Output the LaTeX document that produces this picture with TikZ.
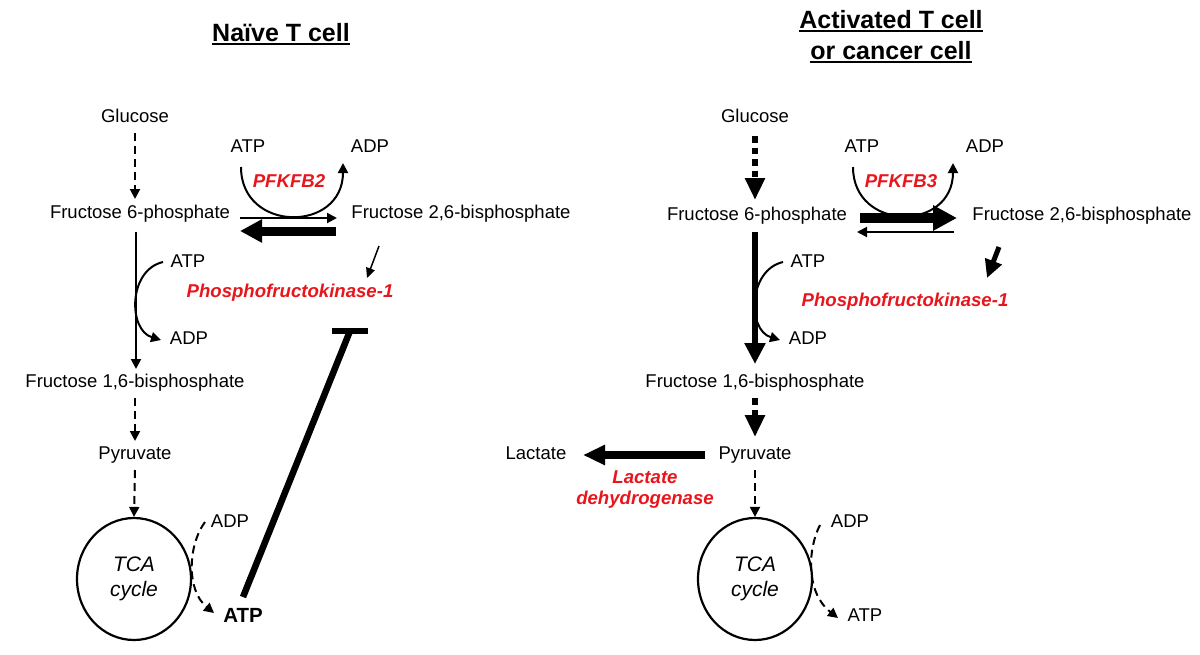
\documentclass[tikz,border=0pt]{standalone}
\usepackage{fontspec}
\setmainfont{Liberation Sans}
\usetikzlibrary{arrows.meta,calc,shapes.geometric}
\definecolor{enzred}{RGB}{232,22,28}
\begin{document}
\begin{tikzpicture}[x=1pt,y=-1pt,
  lbl/.style={font=\fontsize{18.5}{21}\selectfont, inner sep=0pt, text height=13.5pt, text depth=4pt},
  enz/.style={font=\fontsize{18.6}{21}\selectfont\bfseries\itshape, text=enzred, inner sep=0pt, align=center},
  ttl/.style={font=\fontsize{25}{30}\selectfont\bfseries, inner sep=0pt, anchor=base},
  uline/.style={line width=1.8pt},
  tcacirc/.style={ellipse, draw, line width=2.2pt, minimum width=114pt, minimum height=122pt, inner sep=0pt, font=\fontsize{21}{25}\selectfont\itshape, align=center},
  thn/.style={line width=2pt, -{Triangle[length=10pt,width=10pt]}},
  dsh/.style={thn, dash pattern=on 8pt off 5pt},
  dotarr/.style={line width=6.5pt, dash pattern=on 6.5pt off 5pt, -{Triangle[length=22pt,width=19pt]}},
  inhib/.style={line width=6.5pt}
]
\useasboundingbox (0,0) rectangle (1200,654);

% ---------------- Left panel: naive T cell ----------------
\node[ttl] (titleL) at (281,41) {Naïve T cell};
\draw[uline] ($(titleL.base west)+(0,3)$) -- ($(titleL.base east)+(0,3)$);

\node[lbl] (glcL) at (135,118) {Glucose};
\node[lbl] (atpPL) at (248,148) {ATP};
\node[lbl] (adpPL) at (370,148) {ADP};
\node[enz] (pfkfb2) at (289,181) {PFKFB2};
\node[lbl] (f6pL) at (140,214) {Fructose 6-phosphate};
\node[lbl] (f26L) at (461,214) {Fructose 2,6-bisphosphate};
\node[lbl] (atpL) at (188,263) {ATP};
\node[enz] (pfk1L) at (290,293) {Phosphofructokinase-1};
\node[lbl] (adpL) at (189,340) {ADP};
\node[lbl] (f16L) at (135,383) {Fructose 1,6-bisphosphate};
\node[lbl] (pyrL) at (135,455) {Pyruvate};
\node[tcacirc] (tcaL) at (134,579) {TCA\\cycle};
\node[lbl] (adpTL) at (230,523) {ADP};
\node[font=\fontsize{20.5}{24}\selectfont\bfseries, inner sep=0pt] (atpTL) at (243,615) {ATP};

\draw[dsh] ($(glcL)+(0,15)$) -- ($(f6pL)+(-5,-15)$);
\draw[thn] ($(f6pL)+(-4,18)$) -- ($(f16L)+(1,-14)$);
\draw[dsh] ($(f16L)+(0,15)$) -- ($(pyrL)+(0,-14)$);
\draw[dsh] ($(pyrL)+(0,15)$) -- (tcaL.north);
\draw[thn] ($(atpL)+(-25,-1)$) .. controls ($(atpL)+(-60,7)$) and ($(adpL)+(-61,-10)$) .. ($(adpL)+(-28,0)$);
\draw[thn] ($(atpPL)+(-7,19)$) .. controls ($(atpPL)+(-7,85)$) and ($(adpPL)+(-27,85)$) .. ($(adpPL)+(-27,15)$);
\draw[thn] ($(f6pL)+(100,4)$) -- ($(f26L)+(-124,4)$);
\draw[line width=9pt, -{Triangle[length=22pt,width=22pt]}] ($(f26L)+(-125,17)$) -- ($(f6pL)+(100,17)$);
\draw[line width=1.5pt, -{Triangle[length=10pt,width=9pt]}] ($(f26L)+(-82,32)$) -- ($(pfk1L)+(77,-15)$);
\coordinate (inhL) at ($(pfk1L)+(60,38)$);
\draw[inhib] ($(inhL)+(-18,0)$) -- ($(inhL)+(18,0)$);
\draw[inhib] ($(atpTL)+(0,-18)$) -- (inhL);
\draw[dsh] ($(adpTL)+(-25,-1)$) .. controls ($(adpTL)+(-42,22)$) and ($(atpTL)+(-57,-25)$) .. ($(atpTL)+(-29,-2)$);

% ---------------- Right panel: activated T cell ----------------
\node[ttl] (titleR1) at (891,28) {Activated T cell};
\draw[uline] ($(titleR1.base west)+(0,3)$) -- ($(titleR1.base east)+(0,3)$);
\node[ttl] (titleR2) at (891,59) {or cancer cell};
\draw[uline] ($(titleR2.base west)+(0,3)$) -- ($(titleR2.base east)+(0,3)$);

\node[lbl] (glcR) at (755,118) {Glucose};
\node[lbl] (atpPR) at (862,148) {ATP};
\node[lbl] (adpPR) at (985,148) {ADP};
\node[enz] (pfkfb3) at (901,181) {PFKFB3};
\node[lbl] (f6pR) at (757,216) {Fructose 6-phosphate};
\node[lbl] (f26R) at (1082,216) {Fructose 2,6-bisphosphate};
\node[lbl] (atpR) at (808,263) {ATP};
\node[enz] (pfk1R) at (905,302) {Phosphofructokinase-1};
\node[lbl] (adpR) at (808,340) {ADP};
\node[lbl] (f16R) at (755,383) {Fructose 1,6-bisphosphate};
\node[lbl] (pyrR) at (755,455) {Pyruvate};
\node[lbl] (lacR) at (536,455) {Lactate};
\node[enz] (ldh) at (645,490) {Lactate\\dehydrogenase};
\node[tcacirc] (tcaR) at (755,579) {TCA\\cycle};
\node[lbl] (adpTR) at (850,523) {ADP};
\node[lbl] (atpTR) at (865,617) {ATP};

\draw[dotarr] ($(glcR)+(0,18)$) -- ($(f6pR)+(-2,-16)$);
\draw[line width=6.5pt, -{Triangle[length=21pt,width=20pt]}] ($(f6pR)+(-2,16)$) -- ($(f16R)+(0,-19)$);
\draw[dotarr] ($(f16R)+(0,15)$) -- ($(pyrR)+(0,-18)$);
\draw[dsh] ($(pyrR)+(0,15)$) -- (tcaR.north);
\draw[line width=8pt, -{Triangle[length=22pt,width=19pt]}] ($(pyrR)+(-50,0)$) -- ($(lacR)+(47,0)$);
\draw[line width=10pt, -{Triangle[length=24pt,width=24pt]}] ($(f6pR)+(103,2)$) -- ($(f26R)+(-125,2)$);
\draw[thn] ($(f26R)+(-128,16)$) -- ($(f6pR)+(100,16)$);
\draw[line width=5pt, -{Triangle[length=18pt,width=17pt]}] ($(f26R)+(-83,31)$) -- ($(pfk1R)+(82,-24)$);
\draw[thn] ($(atpR)+(-25,-1)$) .. controls ($(atpR)+(-60,7)$) and ($(adpR)+(-61,-10)$) .. ($(adpR)+(-28,0)$);
\draw[thn] ($(atpPR)+(-9,19)$) .. controls ($(atpPR)+(-9,84)$) and ($(adpPR)+(-32,84)$) .. ($(adpPR)+(-32,15)$);
\draw[dsh] ($(adpTR)+(-30,2)$) .. controls ($(adpTR)+(-42,25)$) and ($(atpTR)+(-60,-25)$) .. ($(atpTR)+(-27,1)$);
\end{tikzpicture}
\end{document}
